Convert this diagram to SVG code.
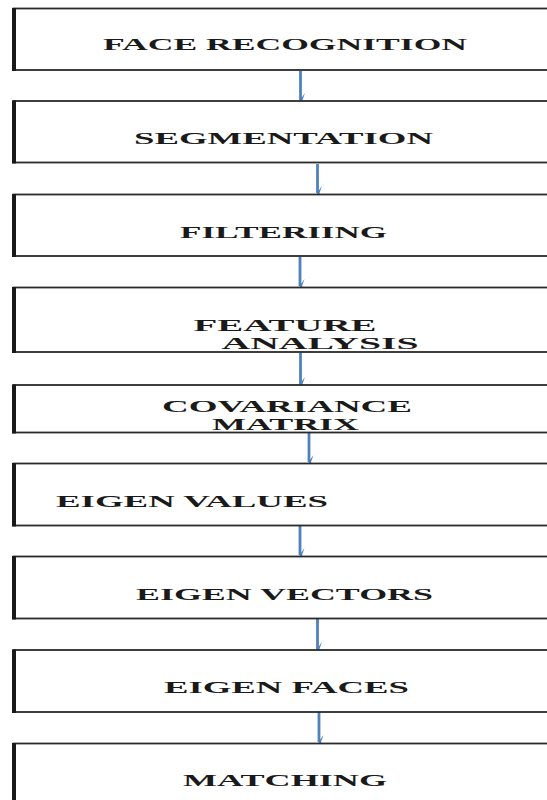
<svg xmlns="http://www.w3.org/2000/svg" width="547" height="800" viewBox="0 0 547 800">
<defs>
<style>
.box{fill:#fff;stroke:#2a2a2a;stroke-width:1.8}
.lb{stroke:#1a1a1a;stroke-width:4}
.t{font-family:"Liberation Serif","Times New Roman",serif;font-weight:bold;font-size:17px;fill:#1a1a1a}
.s{font-size:16px}
.c{stroke:#4f81bd;stroke-width:2.8;fill:none}
</style>
<marker id="ah" viewBox="0 0 14 7" refX="7" refY="6" markerWidth="14" markerHeight="7" markerUnits="userSpaceOnUse" orient="auto-start-reverse">
<path d="M0,1.5 L7,6.5 L14,1.5 L7,4 Z" fill="#4f81bd"/>
</marker>
</defs>
<rect width="547" height="800" fill="#fff"/>
<g id="connectors">
<line class="c" x1="300.5" y1="71" x2="300.5" y2="100" marker-end="url(#ah)"/>
<line class="c" x1="317.5" y1="164" x2="317.5" y2="193" marker-end="url(#ah)"/>
<line class="c" x1="300" y1="257" x2="300" y2="286" marker-end="url(#ah)"/>
<line class="c" x1="300.5" y1="353" x2="300.5" y2="384" marker-end="url(#ah)"/>
<line class="c" x1="309" y1="430" x2="309" y2="462" marker-end="url(#ah)"/>
<line class="c" x1="300" y1="522" x2="300" y2="555" marker-end="url(#ah)"/>
<line class="c" x1="317.5" y1="619" x2="317.5" y2="649" marker-end="url(#ah)"/>
<line class="c" x1="319" y1="712" x2="319" y2="742" marker-end="url(#ah)"/>
</g>
<g id="n1"><rect class="box" x="13.5" y="8.5" width="560" height="61.5"/><line class="lb" x1="14" y1="8" x2="14" y2="71"/><text class="t" x="103" y="50" textLength="364" lengthAdjust="spacingAndGlyphs">FACE RECOGNITION</text></g>
<g id="n2"><rect class="box" x="13.5" y="101" width="560" height="61.5"/><line class="lb" x1="14" y1="100.5" x2="14" y2="163.5"/><text class="t" x="134" y="144" textLength="299" lengthAdjust="spacingAndGlyphs">SEGMENTATION</text></g>
<g id="n3"><rect class="box" x="13.5" y="194.5" width="560" height="61.5"/><line class="lb" x1="14" y1="194" x2="14" y2="257"/><text class="t" x="180" y="238" textLength="207" lengthAdjust="spacingAndGlyphs">FILTERIING</text></g>
<g id="n4"><rect class="box" x="13.5" y="287.5" width="560" height="64.5"/><line class="lb" x1="14" y1="287" x2="14" y2="353"/><text class="t s" x="193.5" y="331" textLength="183" lengthAdjust="spacingAndGlyphs">FEATURE</text><text class="t s" x="221.5" y="348.5" textLength="197" lengthAdjust="spacingAndGlyphs">ANALYSIS</text></g>
<g id="n5"><rect class="box" x="13.5" y="385" width="560" height="47.5"/><line class="lb" x1="14" y1="384.5" x2="14" y2="433.5"/><text class="t s" x="162" y="412" textLength="250" lengthAdjust="spacingAndGlyphs">COVARIANCE</text><text class="t s" x="212" y="430" textLength="147" lengthAdjust="spacingAndGlyphs">MATRIX</text></g>
<g id="n6"><rect class="box" x="13.5" y="463.5" width="560" height="62"/><line class="lb" x1="14" y1="463" x2="14" y2="526.5"/><text class="t" x="56" y="507" textLength="272" lengthAdjust="spacingAndGlyphs">EIGEN VALUES</text></g>
<g id="n7"><rect class="box" x="13.5" y="556.5" width="560" height="62"/><line class="lb" x1="14" y1="556" x2="14" y2="619.5"/><text class="t" x="136" y="600" textLength="297" lengthAdjust="spacingAndGlyphs">EIGEN VECTORS</text></g>
<g id="n8"><rect class="box" x="13.5" y="650" width="560" height="62"/><line class="lb" x1="14" y1="649.5" x2="14" y2="713"/><text class="t" x="164" y="693" textLength="245" lengthAdjust="spacingAndGlyphs">EIGEN FACES</text></g>
<g id="n9"><rect class="box" x="13.5" y="743.5" width="560" height="70"/><line class="lb" x1="14" y1="743" x2="14" y2="800"/><text class="t" x="183" y="786" textLength="204" lengthAdjust="spacingAndGlyphs">MATCHING</text></g>
</svg>
